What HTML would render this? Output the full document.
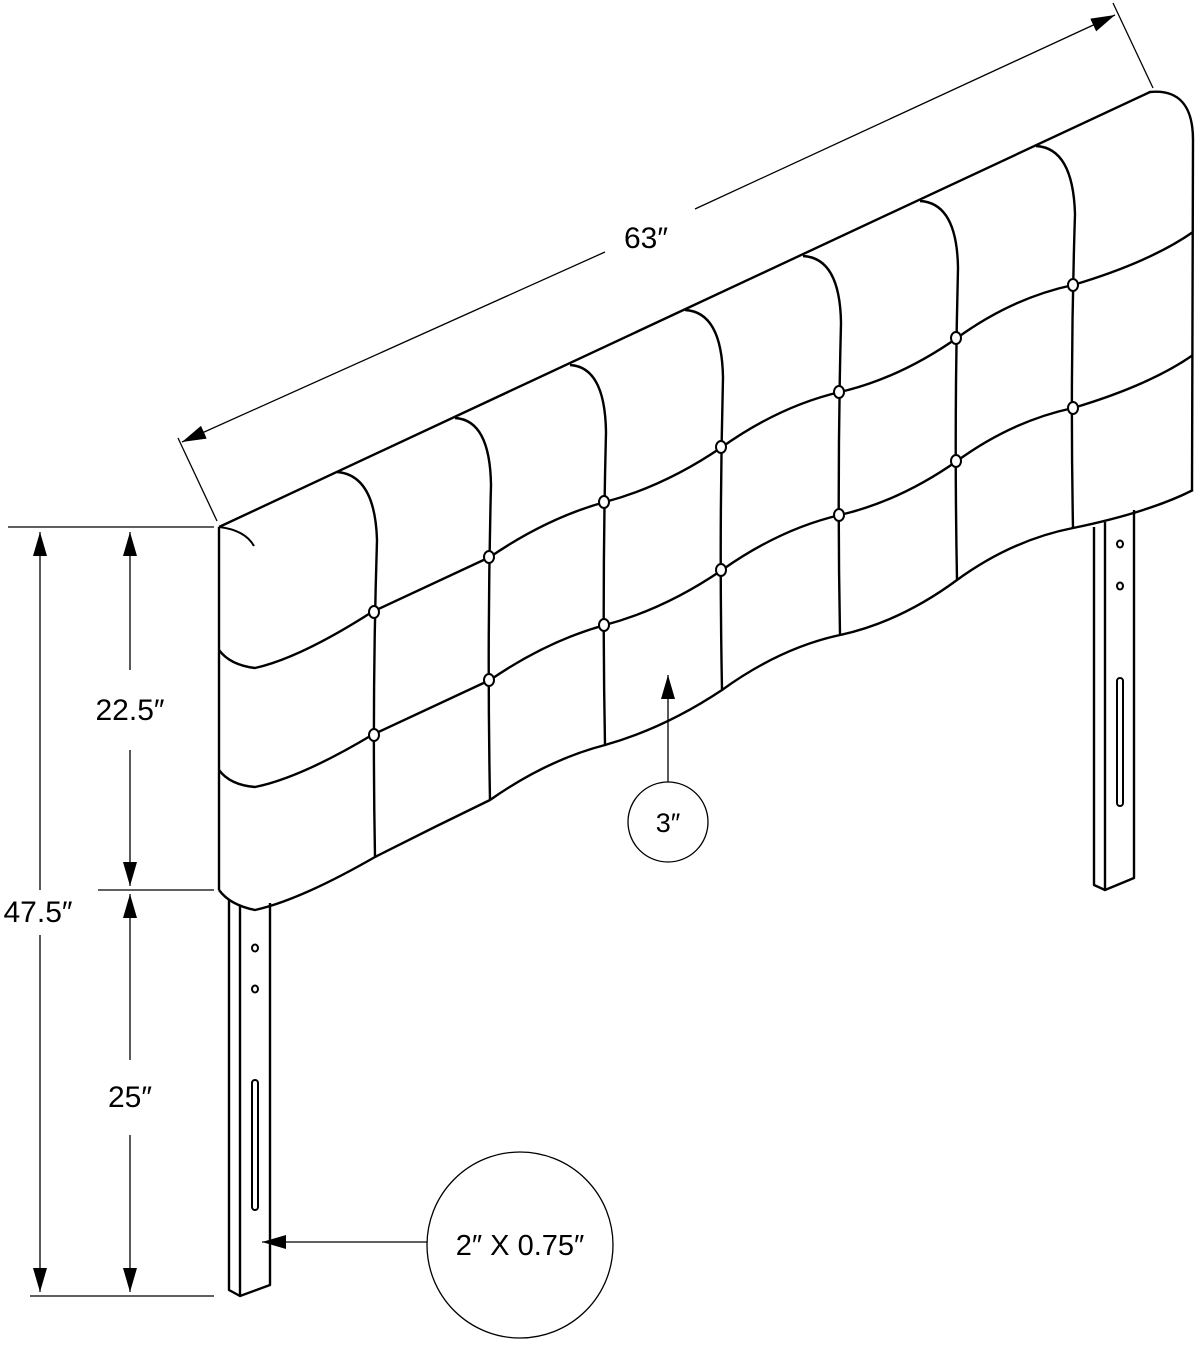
<!DOCTYPE html>
<html><head><meta charset="utf-8"><style>html,body{margin:0;padding:0;background:#fff}svg{display:block}</style></head>
<body>
<svg width="1200" height="1345" viewBox="0 0 1200 1345" xmlns="http://www.w3.org/2000/svg" font-family="Liberation Sans, sans-serif">
<defs>
<marker id="ah2" viewBox="0 0 10 10" refX="10" refY="5" markerWidth="24" markerHeight="14" markerUnits="userSpaceOnUse" orient="auto-start-reverse" preserveAspectRatio="none"><path d="M0,0 L10,5 L0,10 Z" fill="#000"/></marker>
</defs>
<g fill="none" stroke="#000" stroke-width="1.3">
<line x1="8" y1="527" x2="214" y2="527"/>
<line x1="98" y1="890" x2="214" y2="890"/>
<line x1="30" y1="1296" x2="214" y2="1296"/>
<line x1="40" y1="532" x2="40" y2="890" marker-start="url(#ah2)"/>
<line x1="40" y1="935" x2="40" y2="1292" marker-end="url(#ah2)"/>
<line x1="130" y1="532" x2="130" y2="670" marker-start="url(#ah2)"/>
<line x1="130" y1="750" x2="130" y2="886" marker-end="url(#ah2)"/>
<line x1="130" y1="894" x2="130" y2="1060" marker-start="url(#ah2)"/>
<line x1="130" y1="1135" x2="130" y2="1292" marker-end="url(#ah2)"/>
<line x1="217" y1="521" x2="178" y2="438"/>
<line x1="1153" y1="88" x2="1113" y2="3"/>
<line x1="182" y1="442" x2="605" y2="252" marker-start="url(#ah2)"/>
<line x1="695" y1="209" x2="1115" y2="15" marker-end="url(#ah2)"/>
<line x1="668" y1="782" x2="668" y2="675" marker-end="url(#ah2)"/>
<line x1="427" y1="1242" x2="262" y2="1242" marker-end="url(#ah2)"/>
<circle cx="668" cy="822" r="40"/>
<circle cx="520" cy="1245" r="93"/>
</g>
<g fill="none" stroke="#000" stroke-width="2.4" stroke-linejoin="round">
<path d="M219,527 L1150,92 Q1193,88 1193,140 L1192,490"/>
<path d="M219,527 L219,890"/>
<path d="M219,527 Q245,530 254,546" stroke-width="2"/>
<path d="M219,890 Q230,905 255,910 Q300,900 375,857 Q432,828 490,800 Q547,760 605,745 Q665,728 722,690 Q780,648 840,635 Q900,622 957,580 Q1012,540 1073,528 Q1150,512 1193,490"/>
<path d="M219,650 Q230,665 255,668 Q300,658 372,612 Q430,585 490,557 Q547,518 605,502 Q665,486 722,447 Q780,406 840,392 Q900,378 957,338 Q1012,298 1073,285 Q1150,262 1193,232"/>
<path d="M219,770 Q230,785 255,787 Q300,778 372,735 Q430,708 490,680 Q547,641 605,625 Q665,609 722,570 Q780,529 840,515 Q900,501 957,461 Q1012,421 1073,408 Q1150,385 1193,355"/>
<path d="M337,472 Q375,475 377,540 Q372,700 375,857"/>
<path d="M455,418 Q490,420 491,485 Q487,640 490,800"/>
<path d="M570,365 Q605,367 606,432 Q602,590 605,745"/>
<path d="M685,310 Q722,312 723,378 Q719,535 722,690"/>
<path d="M803,256 Q840,258 841,323 Q837,480 840,635"/>
<path d="M920,201 Q957,203 958,268 Q954,425 957,580"/>
<path d="M1036,146 Q1073,148 1075,214 Q1070,370 1073,528"/>
<path d="M229,900 L229,1290 L240,1296 L270,1285 L270,903"/>
<path d="M240,906 L240,1296"/>
<path d="M1094,527 L1094,885 L1105,890 L1134,878 L1134,510"/>
<path d="M1105,522 L1105,890"/>
</g>
<g fill="#fff" stroke="#000" stroke-width="2">
<ellipse cx="374" cy="612" rx="5" ry="6"/><ellipse cx="489" cy="557" rx="5" ry="6"/><ellipse cx="604" cy="502" rx="5" ry="6"/><ellipse cx="721" cy="447" rx="5" ry="6"/><ellipse cx="839" cy="392" rx="5" ry="6"/><ellipse cx="956" cy="338" rx="5" ry="6"/><ellipse cx="1073" cy="285" rx="5" ry="6"/>
<ellipse cx="374" cy="735" rx="5" ry="6"/><ellipse cx="489" cy="680" rx="5" ry="6"/><ellipse cx="604" cy="625" rx="5" ry="6"/><ellipse cx="721" cy="570" rx="5" ry="6"/><ellipse cx="839" cy="515" rx="5" ry="6"/><ellipse cx="956" cy="461" rx="5" ry="6"/><ellipse cx="1073" cy="408" rx="5" ry="6"/>
<ellipse cx="255" cy="948" rx="3" ry="3.5"/><ellipse cx="255" cy="989" rx="3" ry="3.5"/>
<rect x="252" y="1080" width="6" height="130" rx="3"/>
<ellipse cx="1120" cy="544" rx="3" ry="3.5"/><ellipse cx="1120" cy="586" rx="3" ry="3.5"/>
<rect x="1117" y="678" width="6" height="128" rx="3"/>
</g>
<g fill="#000" font-size="30">
<text x="646" y="248" text-anchor="middle">63″</text>
<text x="130" y="720" text-anchor="middle">22.5″</text>
<text x="38" y="922" text-anchor="middle">47.5″</text>
<text x="130" y="1107" text-anchor="middle">25″</text>
<text x="668" y="832" text-anchor="middle" font-size="27">3″</text>
<text x="520" y="1255" text-anchor="middle" font-size="29">2″ X 0.75″</text>
</g>
</svg>
</body></html>
